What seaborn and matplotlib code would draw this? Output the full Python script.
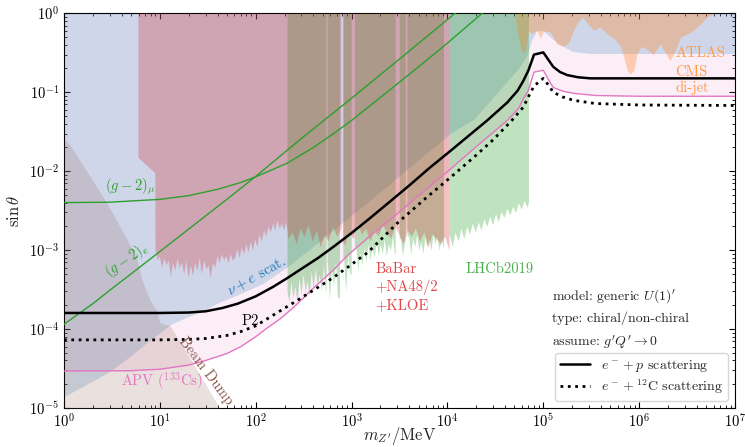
import numpy as np
import pandas as pd
import matplotlib
matplotlib.use("Agg")
import matplotlib.pyplot as plt
from matplotlib.lines import Line2D
import seaborn as sns

# ---------------- data ----------------
# P2 projections
p2_m = [1, 10, 20, 30, 45, 65, 100, 150, 212, 300, 450, 645, 1000, 1500, 2500, 4000, 6500,
        1.07e4, 1.6e4, 2.6e4, 4.2e4, 5.4e4, 6.2e4, 7.0e4, 8.0e4, 1.0e5, 1.15e5, 1.27e5,
        1.5e5, 1.78e5, 2.3e5, 3.1e5, 1e6, 1e7]
p2_ep = [1.6e-4, 1.6e-4, 1.62e-4, 1.68e-4, 1.85e-4, 2.1e-4, 2.6e-4, 3.4e-4, 4.4e-4, 5.8e-4,
         8.0e-4, 1.1e-3, 1.65e-3, 2.45e-3, 4.1e-3, 6.6e-3, 1.1e-2, 1.8e-2, 2.7e-2, 4.4e-2,
         7.4e-2, 0.105, 0.14, 0.19, 0.30, 0.32, 0.25, 0.21, 0.18, 0.165, 0.155, 0.15, 0.15, 0.15]
c12_m = [1, 10, 20, 30, 50, 70, 100, 180, 270, 450, 645, 900, 1500, 3000, 6000, 1.07e4, 2e4,
         3e4, 4.7e4, 6.2e4, 7.0e4, 8.0e4, 1.0e5, 1.15e5, 1.27e5, 1.6e5, 2.07e5, 3.5e5, 1e6, 1e7]
c12_s = [7.3e-5, 7.3e-5, 7.4e-5, 7.6e-5, 8.3e-5, 9.3e-5, 1.1e-4, 1.7e-4, 2.3e-4, 3.4e-4, 4.5e-4,
         6.0e-4, 9.5e-4, 2.2e-3, 4.6e-3, 8.3e-3, 1.6e-2, 2.5e-2, 4.4e-2, 6.5e-2, 8.8e-2, 0.12,
         0.15, 0.12, 0.10, 0.087, 0.079, 0.072, 0.069, 0.068]
# APV (133Cs)
apv_m = [1, 5, 10, 20, 30, 50, 70, 100, 130, 180, 250, 400, 645, 900, 1500, 3000, 6000,
         1.07e4, 2e4, 3e4, 4.2e4, 5.5e4, 6.2e4, 7.0e4, 7.5e4, 8.0e4, 1.0e5, 1.15e5, 1.27e5,
         1.6e5, 2.07e5, 3.5e5, 1e6, 1e7]
apv_s = [2.95e-5, 2.97e-5, 3.1e-5, 3.5e-5, 4.0e-5, 4.9e-5, 6.0e-5, 8.0e-5, 1.02e-4, 1.35e-4,
         1.9e-4, 3.3e-4, 5.6e-4, 8.5e-4, 1.45e-3, 2.9e-3, 5.9e-3, 1.06e-2, 2.05e-2, 3.1e-2,
         4.4e-2, 6.2e-2, 8.3e-2, 0.106, 0.14, 0.18, 0.19, 0.14, 0.115, 0.103, 0.097, 0.091,
         0.089, 0.089]
# (g-2) lines
gmu_m = [1, 3, 10, 20, 40, 70, 100, 150, 212, 400, 700, 1000, 2000, 5000, 1e4, 2.3e4]
gmu_s = [4.0e-3, 4.05e-3, 4.4e-3, 4.9e-3, 5.9e-3, 7.2e-3, 8.5e-3, 1.05e-2, 1.26e-2, 2.0e-2,
         3.2e-2, 4.4e-2, 8.6e-2, 0.21, 0.42, 1.0]
ge_m = [1, 2, 3, 5, 10, 20, 50, 100, 300, 1000, 3000, 1.2e4]
ge_s = [1.15e-4, 2.1e-4, 3.1e-4, 5.0e-4, 9.6e-4, 1.85e-3, 4.4e-3, 8.6e-3, 2.6e-2, 8.4e-2, 0.25, 1.0]

# nu + e scattering (lower edge of excluded region)
nue_m = [1, 2, 3, 5, 7, 10, 13, 20, 28, 42, 64, 120, 212, 500, 1560, 5000, 10700, 19000,
         38000, 55000, 68000, 75000, 85000, 100000, 140000, 200000, 300000, 1e7]
nue_s = [1.4e-5, 2.2e-5, 2.9e-5, 4.6e-5, 6.5e-5, 9.0e-5, 1.15e-4, 1.45e-4, 1.7e-4, 2.2e-4,
         2.7e-4, 3.8e-4, 6.1e-4, 1.4e-3, 4.3e-3, 1.4e-2, 3.0e-2, 4.6e-2, 0.12, 0.2, 0.3, 0.45,
         0.6, 0.6, 0.42, 0.33, 0.31, 0.31]
# Beam dump (upper edge)
bd_m = [1, 1.2, 1.5, 2.2, 3.0, 4.5, 5.8, 6.5, 7.9, 9.3, 10.0, 12.8, 20, 30, 42, 50]
bd_s = [2.6e-2, 2.0e-2, 1.3e-2, 6.3e-3, 3.4e-3, 1.4e-3, 7.5e-4, 4.2e-4, 2.3e-4, 1.7e-4,
        1.2e-4, 1.1e-4, 4.5e-5, 2.0e-5, 1.0e-5, 7e-6]
# BaBar + NA48/2 + KLOE (lower edge)
babar_m = [5.9, 8.85, 8.9, 9.4, 9.9, 10.4, 11.0, 11.6, 12.2, 12.9, 13.6, 14.3, 15.1, 15.9,
           16.8, 17.7, 18.7, 19.7, 20.8, 21.9, 23.1, 24.4, 25.7, 27.1, 28.6, 30.2, 31.8, 33.6,
           35.4, 37.3, 39.4, 41.5, 43.8, 46.2, 48.7, 51.4, 54.2, 57.2, 60.3, 63.6, 67.1, 70.8,
           74.7, 78.8, 83.1, 87.6, 92.4, 97.5, 103, 108, 114, 121, 127, 134, 142, 150, 158,
           166, 176, 185, 195, 206,
           217, 240, 265, 290, 320, 350, 390, 430, 470, 520, 570, 630, 700, 770, 850, 940,
           1040, 1150, 1270, 1400, 1550, 1710, 1890, 2090, 2310, 2550, 2820, 3110, 3440, 3800,
           4200, 4640, 5130, 5670, 6260, 6920, 7650, 8450, 9340, 10400]
babar_s = [1.5e-2, 9.6e-3, 1.0e-3, 7.5e-4, 8.5e-4, 6.0e-4, 8.0e-4, 6.5e-4, 7.5e-4, 4.6e-4,
           7.0e-4, 5.5e-4, 8.0e-4, 6.0e-4, 7.0e-4, 5.0e-4, 7.5e-4, 4.5e-4, 6.5e-4, 4.8e-4,
           7.0e-4, 5.5e-4, 8.0e-4, 5.0e-4, 7.5e-4, 5.8e-4, 6.5e-4, 4.5e-4, 7.0e-4, 6.0e-4,
           8.5e-4, 7.0e-4, 9.0e-4, 7.5e-4, 8.5e-4, 7.0e-4, 9.0e-4, 7.5e-4, 8.0e-4, 1.05e-3,
           8.0e-4, 1.1e-3, 9.0e-4, 1.2e-3, 9.5e-4, 1.3e-3, 1.0e-3, 1.4e-3, 1.1e-3, 1.6e-3,
           1.3e-3, 1.8e-3, 1.5e-3, 2.0e-3, 1.7e-3, 2.2e-3, 1.8e-3, 2.4e-3, 1.9e-3, 2.2e-3,
           1.8e-3, 2.3e-3,
           1.4e-3, 1.7e-3, 1.2e-3, 1.9e-3, 1.5e-3, 2.1e-3, 1.3e-3, 1.8e-3, 1.1e-3, 1.6e-3,
           1.3e-3, 2.0e-3, 1.5e-3, 1.9e-3, 1.2e-3, 1.7e-3, 1.4e-3, 2.2e-3, 1.6e-3, 1.9e-3,
           1.3e-3, 1.8e-3, 1.5e-3, 2.1e-3, 1.7e-3, 1.4e-3, 2.0e-3, 1.6e-3, 1.2e-3, 1.8e-3,
           1.5e-3, 1.9e-3, 1.3e-3, 1.7e-3, 1.1e-3, 1.6e-3, 1.4e-3, 1.2e-3, 1.5e-3, 1.0e-3]
babar_segments = [(5.9, 773), (811, 10400)]
# LHCb 2019 (lower edge)
lhcb_m = [212, 222, 233, 245, 257, 270, 283, 297, 312, 328, 344, 361, 379, 398, 418, 439, 461,
          484, 508, 533, 560, 588, 617, 648, 680, 714, 750, 788, 827, 868, 912, 957, 1005,
          1055, 1108, 1163, 1221, 1282, 1346, 1413, 1484, 1558, 1636, 1718, 1804, 1894, 1989,
          2088, 2193, 2302, 2417, 2538, 2665, 2798, 2938, 3085, 3239, 3401, 3571, 3750, 3937,
          4134, 4341, 4558, 4786, 5025, 5276, 5540, 5817, 6108, 6413, 6734, 7071, 7424, 7796,
          8185, 8595, 9024, 9476, 9950, 10450, 11200, 12000, 12900, 13800, 14800, 15900,
          17000, 18200, 19500, 20900, 22400, 24000, 25700, 27600, 29500, 31700, 33900, 36300,
          38900, 41700, 44700, 47900, 51300, 55000, 58900, 63100, 67600, 70000]
lhcb_s = [3.0e-4, 2.2e-4, 4.0e-4, 2.5e-4, 3.5e-4, 2.2e-4, 4.5e-4, 2.8e-4, 5.0e-4, 3.0e-4,
          4.2e-4, 2.6e-4, 5.5e-4, 3.2e-4, 6.0e-4, 3.5e-4, 5.0e-4, 3.0e-4, 6.5e-4, 3.0e-4,
          7.0e-4, 2.4e-4, 6.0e-4, 3.5e-4, 7.5e-4, 2.5e-4, 6.5e-4, 4.0e-4, 8.0e-4, 3.0e-4,
          9.0e-4, 5.0e-4, 1.0e-3, 6.0e-4, 1.1e-3, 5.5e-4, 9.5e-4, 6.5e-4, 1.1e-3, 7.0e-4,
          1.2e-3, 7.5e-4, 1.1e-3, 8.0e-4, 1.3e-3, 8.5e-4, 1.2e-3, 9.0e-4, 1.4e-3, 8.5e-4,
          1.2e-3, 1.0e-3, 1.5e-3, 9.0e-4, 1.3e-3, 1.0e-3, 1.4e-3, 8.5e-4, 1.3e-3, 1.0e-3,
          1.5e-3, 9.0e-4, 1.4e-3, 1.1e-3, 1.6e-3, 1.0e-3, 1.3e-3, 9.0e-4, 1.5e-3, 1.1e-3,
          1.4e-3, 1.0e-3, 1.6e-3, 1.2e-3, 1.5e-3, 1.0e-3, 1.4e-3, 1.1e-3, 1.5e-3, 1.2e-3,
          1.6e-3, 1.1e-3, 1.7e-3, 1.3e-3, 1.9e-3, 1.4e-3, 2.0e-3, 1.6e-3, 2.2e-3, 1.7e-3,
          2.3e-3, 1.8e-3, 2.5e-3, 2.0e-3, 2.7e-3, 2.1e-3, 2.9e-3, 2.3e-3, 3.1e-3, 2.6e-3,
          3.4e-3, 2.8e-3, 3.6e-3, 3.0e-3, 4.0e-3, 3.3e-3, 4.3e-3, 3.5e-3, 4.0e-3]
lhcb_segments = [(212, 540), (556, 748), (811, 990), (1070, 2850), (3140, 3630),
                 (3780, 9100), (10400, 70000)]
# ATLAS / CMS di-jet (lower edge)
atlas_m = [5.1e4, 5.5e4, 6.0e4, 6.5e4, 7.0e4, 7.5e4, 8.6e4, 9.3e4, 1.0e5, 1.18e5, 1.39e5,
           1.63e5, 1.85e5, 2.07e5, 2.3e5, 2.6e5, 2.9e5, 3.35e5, 3.9e5, 4.6e5, 5.5e5, 6.4e5,
           6.9e5, 7.5e5, 8.1e5, 8.8e5, 9.5e5, 1.05e6, 1.21e6, 1.4e6, 1.66e6, 1.9e6, 2.1e6,
           2.4e6, 2.7e6, 3.2e6, 3.7e6, 4.4e6, 5.1e6, 6.0e6]
atlas_s = [0.9, 0.5, 0.32, 0.33, 0.61, 0.55, 0.61, 0.48, 0.6, 0.58, 0.41, 0.38, 0.43, 0.61,
           0.78, 0.9, 0.74, 0.61, 0.67, 0.55, 0.48, 0.38, 0.28, 0.19, 0.17, 0.19, 0.31, 0.38,
           0.35, 0.30, 0.41, 0.31, 0.25, 0.35, 0.5, 0.55, 0.61, 0.74, 0.9, 1.0]

# ---------------- style ----------------
sns.set_style("ticks")
plt.rcParams.update({
    "font.family": "serif",
    "font.serif": ["cmr10", "DejaVu Serif"],
    "mathtext.fontset": "cm",
    "axes.formatter.use_mathtext": True,
    "axes.unicode_minus": False,
    "xtick.direction": "in", "ytick.direction": "in",
    "xtick.top": True, "ytick.right": True,
    "axes.edgecolor": "black",
    "xtick.color": "black", "ytick.color": "black",
})

fig = plt.figure(figsize=(7.45, 4.47), dpi=100)
ax = fig.add_axes([0.0859, 0.0872, 0.9007, 0.8830])
ax.set_xscale("log")
ax.set_yscale("log")
ax.set_xlim(1, 1e7)
ax.set_ylim(1e-5, 1)


def seg_fill(m, lo, segments, **kw):
    m = np.asarray(m, float)
    lo = np.asarray(lo, float)
    for a, b in segments:
        k = (m >= a) & (m <= b)
        xs = list(m[k]); ys = list(lo[k])
        if xs[0] > a:
            xs = [a] + xs; ys = [ys[0]] + ys
        if xs[-1] < b:
            xs = xs + [b]; ys = ys + [ys[-1]]
        ax.fill_between(xs, ys, 1.0, lw=0, **kw)


# regions (drawn from the bottom layer up)
ax.fill_between(apv_m, apv_s, 1.0, color="tab:pink", alpha=0.12, lw=0, zorder=1)
ax.fill_between(nue_m, nue_s, 1.0, color="tab:blue", alpha=0.2, lw=0, zorder=2)
ax.fill_between(bd_m, 1e-6, bd_s, color="tab:brown", alpha=0.18, lw=0, zorder=3)
seg_fill(lhcb_m, lhcb_s, lhcb_segments, color="tab:green", alpha=0.3, zorder=4)
seg_fill(babar_m, babar_s, babar_segments, color="tab:red", alpha=0.28, zorder=5)
ax.fill_between(atlas_m, atlas_s, 1.0, color="tab:orange", alpha=0.3, lw=0, zorder=6)

# lines
df_g = pd.DataFrame({"m": gmu_m, "s": gmu_s})
sns.lineplot(data=df_g, x="m", y="s", ax=ax, color="tab:green", lw=1.0, zorder=7)
df_e = pd.DataFrame({"m": ge_m, "s": ge_s})
sns.lineplot(data=df_e, x="m", y="s", ax=ax, color="tab:green", lw=1.0, zorder=7)
df_apv = pd.DataFrame({"m": apv_m, "s": apv_s})
sns.lineplot(data=df_apv, x="m", y="s", ax=ax, color="tab:pink", lw=1.0, zorder=7)
df_ep = pd.DataFrame({"m": p2_m, "s": p2_ep})
sns.lineplot(data=df_ep, x="m", y="s", ax=ax, color="black", lw=1.8, zorder=8)
df_c = pd.DataFrame({"m": c12_m, "s": c12_s})
sns.lineplot(data=df_c, x="m", y="s", ax=ax, color="black", lw=2.0, zorder=8)
ax.lines[-1].set_linestyle(":")

ax.set_xlim(1, 1e7)
ax.set_ylim(1e-5, 1)

# labels
fs = 10.5
ax.text(4.9, 6.3e-3, r"$(g-2)_\mu$", color="tab:green", fontsize=fs, ha="center", va="center", zorder=9)
ax.text(4.5, 7.6e-4, r"$(g-2)_e$", color="tab:green", fontsize=fs, ha="center", va="center",
        rotation=34, zorder=9)
ax.text(103, 4.6e-4, r"$\nu+e$ scat.", color="tab:blue", fontsize=fs, ha="center", va="center",
        rotation=29, zorder=9)
ax.text(87, 1.26e-4, "P2", color="black", fontsize=fs, ha="center", va="center", zorder=9)
ax.text(30, 2.9e-5, "Beam Dump", color="tab:brown", fontsize=fs, ha="center", va="center",
        rotation=-53, zorder=9)
ax.text(10.5, 2.2e-5, r"APV ($^{133}$Cs)", color="tab:pink", fontsize=fs, ha="center",
        va="center", zorder=9)
ax.text(1.76e3, 7.0e-4, "BaBar\n+NA48/2\n+KLOE", color="#e04848", fontsize=fs, ha="left",
        va="top", linespacing=1.3, zorder=9)
ax.text(1.53e4, 5.7e-4, "LHCb2019", color="#4cb04c", fontsize=fs, ha="left", va="center", zorder=9)
for txt, yy in [("ATLAS", 0.31), ("CMS", 0.18), ("di-jet", 0.112)]:
    ax.text(2.39e6, yy, txt, color="#ff9a45", fontsize=fs, ha="left", va="center", zorder=9)
fs2 = 10
ax.text(1.24e5, 2.6e-4, r"model: generic $U(1)'$", fontsize=fs2, ha="left", va="center", zorder=9)
ax.text(1.24e5, 1.38e-4, "type: chiral/non-chiral", fontsize=fs2, ha="left", va="center", zorder=9)
ax.text(1.24e5, 6.9e-5, r"assume: $g'Q'\to 0$", fontsize=fs2, ha="left", va="center", zorder=9)

handles = [Line2D([], [], color="black", lw=1.8),
           Line2D([], [], color="black", lw=2.0, ls=":")]
leg = ax.legend(handles, [r"$e^- + p$ scattering", r"$e^- + {}^{12}$C scattering"],
                loc="lower right", fontsize=fs2, frameon=True, fancybox=True,
                borderaxespad=0.5, handlelength=2.2, labelspacing=0.25, borderpad=0.35)
leg.set_zorder(10)

ax.set_xlabel(r"$m_{Z'}/\mathrm{MeV}$", fontsize=12)
ax.set_ylabel(r"$\sin\theta$", fontsize=12)
ax.xaxis.set_label_coords(0.5, -0.043)
ax.yaxis.set_label_coords(-0.063, 0.5)
ax.tick_params(which="both", direction="in", top=True, right=True, labelsize=10.5)
ax.tick_params(which="major", length=4)
ax.tick_params(which="minor", length=2)

fig.savefig("out.png", dpi=100)
